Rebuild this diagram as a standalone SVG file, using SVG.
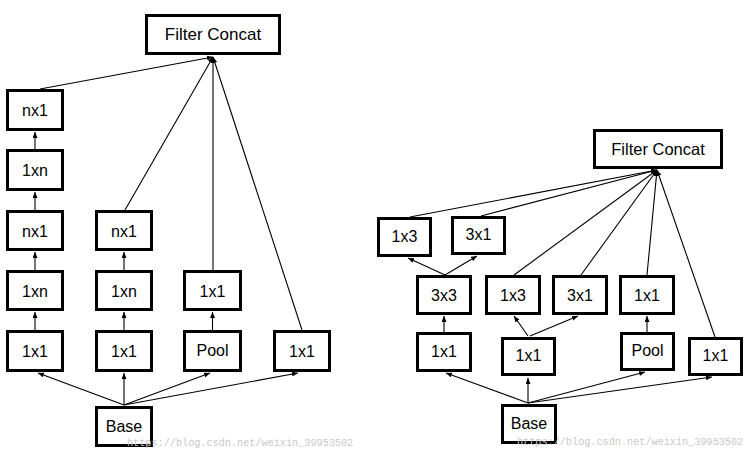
<svg xmlns="http://www.w3.org/2000/svg" width="751" height="462" viewBox="0 0 751 462">
<style>
.box{fill:#fff;stroke:#000;stroke-width:3}
.lbl{font-family:"Liberation Sans",Arial,sans-serif;font-size:16px;fill:#000;text-anchor:middle;dominant-baseline:central}
.fc{font-size:17px}
.fcr{font-size:16.5px}
.ln{stroke:#000;stroke-width:1.1;fill:none;marker-end:url(#ah)}
.wm{font-family:"Liberation Mono","DejaVu Sans Mono",monospace;font-size:10.2px;fill:#c8c8c8}
</style>
<defs>
<marker id="ah" markerUnits="userSpaceOnUse" markerWidth="7" markerHeight="6" refX="6" refY="2.5" orient="auto">
<path d="M0,0 L6,2.5 L0,5 z" fill="#000"/>
</marker>
</defs>
<g id="connectors">
<line class="ln" x1="35" y1="149" x2="35" y2="132"/>
<line class="ln" x1="35" y1="210" x2="35" y2="192"/>
<line class="ln" x1="35" y1="270" x2="35" y2="252"/>
<line class="ln" x1="35" y1="330" x2="35" y2="312"/>
<line class="ln" x1="124" y1="270" x2="124" y2="252"/>
<line class="ln" x1="124" y1="330" x2="124" y2="312"/>
<line class="ln" x1="212.5" y1="330" x2="212.5" y2="312"/>
<line class="ln" x1="124" y1="405" x2="38" y2="373"/>
<line class="ln" x1="124" y1="405" x2="124" y2="373"/>
<line class="ln" x1="124" y1="405" x2="210" y2="373"/>
<line class="ln" x1="124" y1="405" x2="298" y2="373"/>
<line class="ln" x1="40" y1="89" x2="213" y2="57"/>
<line class="ln" x1="125" y1="210" x2="213" y2="57"/>
<line class="ln" x1="213" y1="270" x2="213" y2="57"/>
<line class="ln" x1="302" y1="330" x2="213" y2="57"/>
<line class="ln" x1="528" y1="403" x2="446" y2="373"/>
<line class="ln" x1="528" y1="403" x2="528" y2="378"/>
<line class="ln" x1="528" y1="403" x2="645" y2="372"/>
<line class="ln" x1="528" y1="403" x2="712" y2="377"/>
<line class="ln" x1="444" y1="332" x2="444" y2="316"/>
<line class="ln" x1="528" y1="336" x2="514" y2="316"/>
<line class="ln" x1="530" y1="336" x2="578" y2="316"/>
<line class="ln" x1="647" y1="332" x2="647" y2="316"/>
<line class="ln" x1="445" y1="275" x2="408" y2="258"/>
<line class="ln" x1="445" y1="275" x2="477" y2="256"/>
<line class="ln" x1="410" y1="217" x2="657" y2="170"/>
<line class="ln" x1="481" y1="216" x2="657" y2="170"/>
<line class="ln" x1="514" y1="275" x2="657" y2="170"/>
<line class="ln" x1="581" y1="275" x2="657" y2="170"/>
<line class="ln" x1="647" y1="275" x2="657" y2="170"/>
<line class="ln" x1="715" y1="337" x2="657" y2="170"/>
</g>
<g id="L_fc"><rect class="box" x="146.5" y="15.5" width="133" height="38"/><text class="lbl fc" x="213" y="34.5">Filter Concat</text></g>
<g id="L_c1_nx1a"><rect class="box" x="7.5" y="90.5" width="55" height="39"/><text class="lbl" x="35" y="110">nx1</text></g>
<g id="L_c1_1xna"><rect class="box" x="7.5" y="150.5" width="55" height="39"/><text class="lbl" x="35" y="170">1xn</text></g>
<g id="L_c1_nx1b"><rect class="box" x="7.5" y="211.5" width="55" height="38"/><text class="lbl" x="35" y="231">nx1</text></g>
<g id="L_c1_1xnb"><rect class="box" x="7.5" y="271.5" width="55" height="38"/><text class="lbl" x="35" y="291">1xn</text></g>
<g id="L_c1_1x1"><rect class="box" x="7.5" y="331.5" width="55" height="39"/><text class="lbl" x="35" y="351">1x1</text></g>
<g id="L_c2_nx1"><rect class="box" x="96.5" y="211.5" width="55" height="38"/><text class="lbl" x="124" y="231">nx1</text></g>
<g id="L_c2_1xn"><rect class="box" x="96.5" y="271.5" width="55" height="38"/><text class="lbl" x="124" y="291">1xn</text></g>
<g id="L_c2_1x1"><rect class="box" x="96.5" y="331.5" width="55" height="39"/><text class="lbl" x="124" y="351">1x1</text></g>
<g id="L_c3_1x1"><rect class="box" x="184.5" y="271.5" width="56" height="38"/><text class="lbl" x="212.5" y="291">1x1</text></g>
<g id="L_c3_pool"><rect class="box" x="184.5" y="331.5" width="56" height="39"/><text class="lbl" x="212.5" y="350">Pool</text></g>
<g id="L_c4_1x1"><rect class="box" x="274.5" y="331.5" width="55" height="39"/><text class="lbl" x="302" y="351">1x1</text></g>
<g id="L_base"><rect class="box" x="96.5" y="407.5" width="55" height="38"/><text class="lbl" x="124" y="426">Base</text></g>
<g id="R_fc"><rect class="box" x="594.5" y="130.5" width="127" height="37"/><text class="lbl fcr" x="658" y="148.5">Filter Concat</text></g>
<g id="R_1x3u"><rect class="box" x="378.5" y="218.5" width="52" height="37"/><text class="lbl" x="404.5" y="236">1x3</text></g>
<g id="R_3x1u"><rect class="box" x="452.5" y="217.5" width="52" height="36"/><text class="lbl" x="478.5" y="234.5">3x1</text></g>
<g id="R_3x3"><rect class="box" x="417.5" y="276.5" width="53" height="37"/><text class="lbl" x="444" y="295">3x3</text></g>
<g id="R_1x3m"><rect class="box" x="486.5" y="276.5" width="53" height="37"/><text class="lbl" x="513" y="295">1x3</text></g>
<g id="R_3x1m"><rect class="box" x="553.5" y="276.5" width="53" height="37"/><text class="lbl" x="580" y="295">3x1</text></g>
<g id="R_1x1m"><rect class="box" x="620.5" y="276.5" width="53" height="37"/><text class="lbl" x="647" y="295">1x1</text></g>
<g id="R_1x1a"><rect class="box" x="417.5" y="333.5" width="53" height="37"/><text class="lbl" x="444" y="351.5">1x1</text></g>
<g id="R_1x1b"><rect class="box" x="502.5" y="338.5" width="52" height="36"/><text class="lbl" x="528.5" y="355.5">1x1</text></g>
<g id="R_pool"><rect class="box" x="621.5" y="333.5" width="52" height="36"/><text class="lbl" x="647.5" y="350">Pool</text></g>
<g id="R_1x1c"><rect class="box" x="689.5" y="338.5" width="52" height="36"/><text class="lbl" x="715.5" y="355.5">1x1</text></g>
<g id="R_base"><rect class="box" x="502.5" y="405.5" width="53" height="37"/><text class="lbl" x="529" y="423.5">Base</text></g>
<text class="wm" x="127" y="446">https://blog.csdn.net/weixin_39953502</text>
<text class="wm" x="517" y="445">https://blog.csdn.net/weixin_39953502</text>
</svg>
